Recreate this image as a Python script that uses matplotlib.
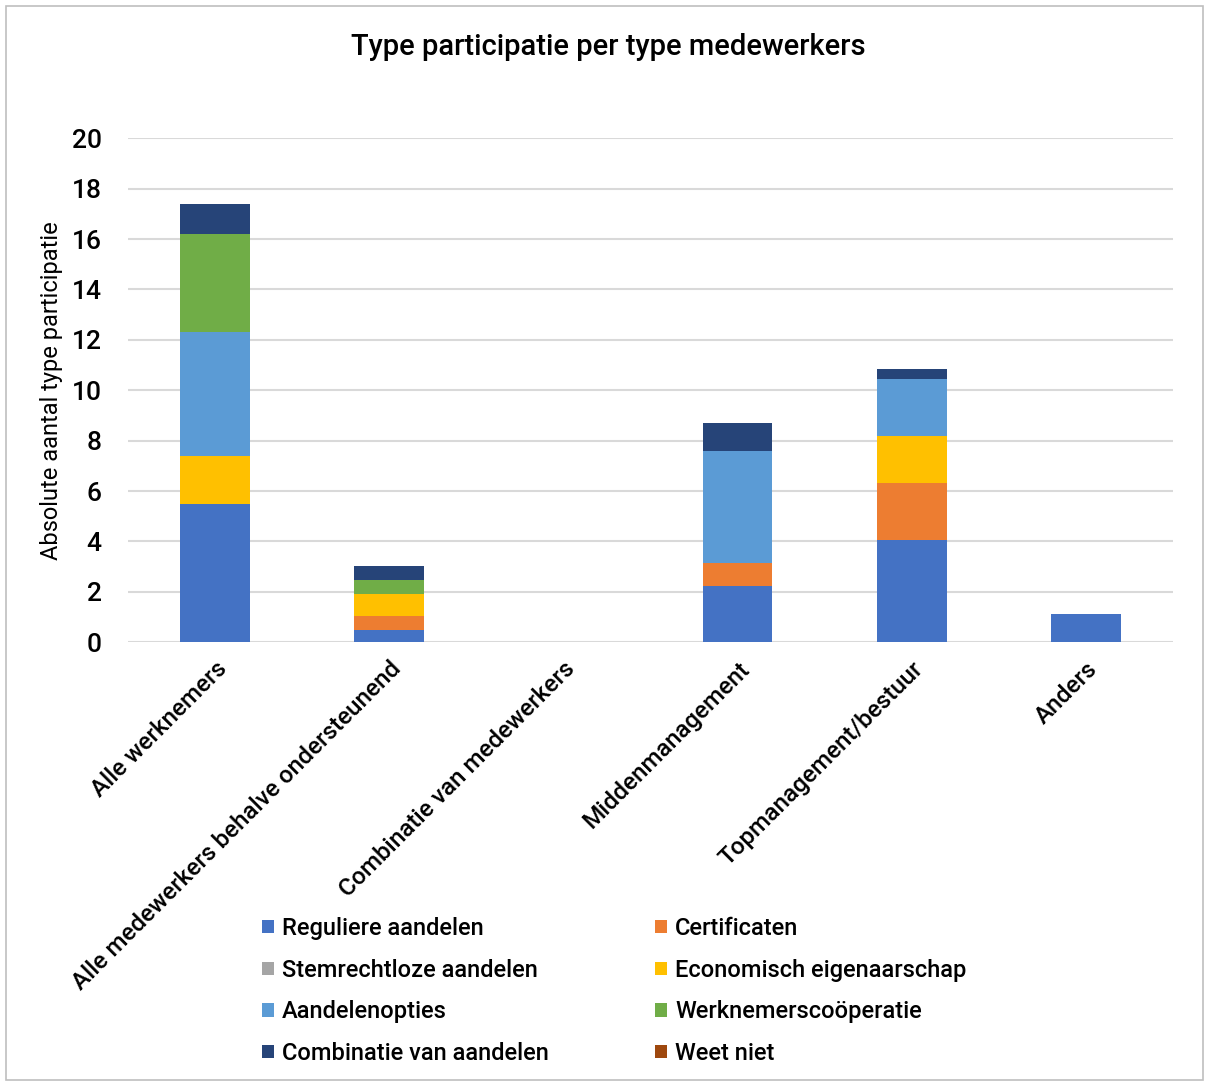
import numpy as np
import matplotlib
matplotlib.use("Agg")
import matplotlib.pyplot as plt
from matplotlib.patches import Rectangle

plt.rcParams['font.family'] = ['Roboto', 'DejaVu Sans']
plt.rcParams['font.weight'] = 'medium'

categories = ['Alle werknemers', 'Alle medewerkers behalve ondersteunend',
              'Combinatie van medewerkers', 'Middenmanagement',
              'Topmanagement/bestuur', 'Anders']

# stacked series, bottom to top
series = ['Reguliere aandelen', 'Certificaten', 'Stemrechtloze aandelen',
          'Economisch eigenaarschap', 'Aandelenopties', 'Werknemerscoöperatie',
          'Combinatie van aandelen', 'Weet niet']
reguliere = [5.5, 0.5, 0, 2.23, 4.06, 1.12]
certificaten = [0, 0.56, 0, 0.9, 2.27, 0]
stemrechtloos = [0, 0, 0, 0, 0, 0]
economisch = [1.89, 0.84, 0, 0, 1.84, 0]
opties = [4.94, 0, 0, 4.46, 2.28, 0]
cooperatie = [3.86, 0.56, 0, 0, 0, 0]
combinatie = [1.19, 0.58, 0, 1.1, 0.38, 0]
weet_niet = [0, 0, 0, 0, 0, 0]

colors = ['#4472C4', '#ED7D31', '#A5A5A5', '#FFC000',
          '#5B9BD5', '#70AD47', '#264478', '#9E480E']

data = [reguliere, certificaten, stemrechtloos, economisch,
        opties, cooperatie, combinatie, weet_niet]

fig = plt.figure(figsize=(12.05, 10.82), dpi=100)
ax = fig.add_axes([0.1062, 0.4064, 0.8672, 0.4658])

x = np.arange(len(categories))
bottom = np.zeros(len(categories))
handles = []
for name, vals, col in zip(series, data, colors):
    vals = np.array(vals, dtype=float)
    h = ax.bar(x, vals, 0.4, bottom=bottom, color=col, label=name, zorder=3)
    handles.append(h)
    bottom += vals

ax.set_xlim(-0.5, len(categories) - 0.5)
ax.set_ylim(0, 20)
ax.set_yticks(range(0, 21, 2))
ax.yaxis.grid(True, color='#D9D9D9', linewidth=1.5, zorder=0)
for s in ax.spines.values():
    s.set_visible(False)
ax.tick_params(axis='both', length=0)
ax.tick_params(axis='y', labelsize=19, pad=19)
ax.set_xticks(x)
ax.set_xticklabels(categories, rotation=45, ha='right', rotation_mode='anchor',
                   fontsize=17.5)
ax.tick_params(axis='x', pad=11)
ax.set_ylabel('Absolute aantal type participatie', fontsize=17, labelpad=6)

fig.text(0.505, 0.957, 'Type participatie per type medewerkers',
         ha='center', va='center', fontsize=21)

# legend is filled column-wise, reorder so rows read left to right
order = [0, 2, 4, 6, 1, 3, 5, 7]
leg = fig.legend([handles[i] for i in order], [series[i] for i in order],
                 ncol=2, loc='upper left', bbox_to_anchor=(0.2174, 0.1524),
                 frameon=False, fontsize=17, handlelength=0.5, handleheight=0.5,
                 handletextpad=0.35, columnspacing=4.5, labelspacing=0.79,
                 borderaxespad=0, borderpad=0)

fig.patches.append(Rectangle((0.005, 0.002), 0.993, 0.992, transform=fig.transFigure,
                             fill=False, edgecolor='#BFBFBF', linewidth=1.2))

fig.savefig('out.png', dpi=100)
